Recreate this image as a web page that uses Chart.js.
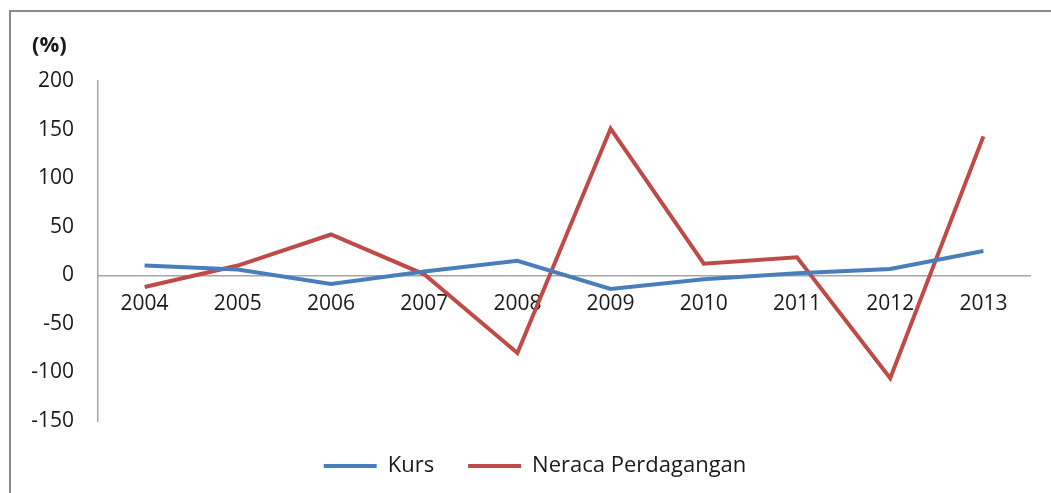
<!DOCTYPE html>
<html>
<head>
<meta charset="utf-8">
<script src="https://cdn.jsdelivr.net/npm/chart.js@4/dist/chart.umd.min.js"></script>
<style>
  html, body { margin: 0; padding: 0; background: #fff; }
  #wrap { position: relative; width: 1051px; height: 493px; }
  #frame {
    position: absolute; left: 9px; top: 10px; right: 0; bottom: 0;
    border-top: 2px solid #8a8a8a; border-left: 2px solid #8a8a8a;
    pointer-events: none;
  }
</style>
</head>
<body>
<div id="wrap">
  <canvas id="chart1" width="1051" height="493"></canvas>
  <div id="frame"></div>
</div>
<script>
const years = ["2004", "2005", "2006", "2007", "2008", "2009", "2010", "2011", "2012", "2013"];
const kurs = [10, 6, -9, 4, 15, -14, -4, 2, 6.5, 25];
const neraca = [-12, 10, 42, 1, -80, 151, 12, 18.5, -106, 143];
const yTicks = [200, 150, 100, 50, 0, -50, -100, -150];

const FONT = "'Open Sans', sans-serif";

// "(%)" label above the value axis
const unitLabel = {
  id: "unitLabel",
  afterDraw(chart) {
    const ctx = chart.ctx;
    ctx.save();
    ctx.font = "bold 22px " + FONT;
    ctx.fillStyle = "#1a1a1a";
    ctx.textBaseline = "middle";
    ctx.textAlign = "left";
    ctx.fillText("(%)", chart.chartArea.left - 66, chart.chartArea.top - 35);
    ctx.restore();
  }
};

// nudge the legend a bit to the right, like the original
const legendShift = {
  id: "legendShift",
  afterLayout(chart) {
    if (chart.legend) {
      chart.legend.left += 20;
      chart.legend.right += 20;
    }
  }
};

const chart = new Chart(
  document.getElementById("chart1"),
  {
    type: "line",
    data: {
      labels: years,
      datasets: [
        {
          label: "Kurs",
          data: kurs,
          borderColor: "#4a7ebb",
          backgroundColor: "#4a7ebb",
          borderWidth: 4,
          pointRadius: 0,
          tension: 0
        },
        {
          label: "Neraca Perdagangan",
          data: neraca,
          borderColor: "#be4b48",
          backgroundColor: "#be4b48",
          borderWidth: 4,
          pointRadius: 0,
          tension: 0
        }
      ]
    },
    options: {
      responsive: false,
      animation: false,
      layout: {
        padding: { top: 81, right: 21, bottom: 6, left: 0 }
      },
      plugins: {
        title: { display: false },
        tooltip: { enabled: false },
        legend: {
          position: "bottom",
          labels: {
            boxWidth: 53,
            boxHeight: 4,
            padding: 34,
            color: "#1a1a1a",
            font: { family: FONT, size: 22 },
            generateLabels(chart) {
              const items = Chart.defaults.plugins.legend.labels.generateLabels(chart);
              items.forEach(it => { it.lineWidth = 0; });
              return items;
            }
          }
        }
      },
      scales: {
        x: {
          position: { y: 0 },
          offset: true,
          grid: { display: false, drawTicks: false },
          border: { display: true, color: "#a6a6a6", width: 1.5 },
          ticks: {
            padding: 16,
            color: "#1a1a1a",
            maxRotation: 0,
            font: { family: FONT, size: 21 }
          }
        },
        y: {
          min: -150,
          max: 200,
          afterFit(scale) { scale.width = 98; },
          afterBuildTicks(scale) {
            scale.ticks = yTicks.map(v => ({ value: v }));
          },
          grid: { display: false, drawTicks: false },
          border: { display: true, color: "#a6a6a6", width: 1.5 },
          ticks: {
            padding: 24,
            color: "#1a1a1a",
            font: { family: FONT, size: 21 }
          }
        }
      }
    },
    plugins: [unitLabel, legendShift]
  }
);
</script>
</body>
</html>
